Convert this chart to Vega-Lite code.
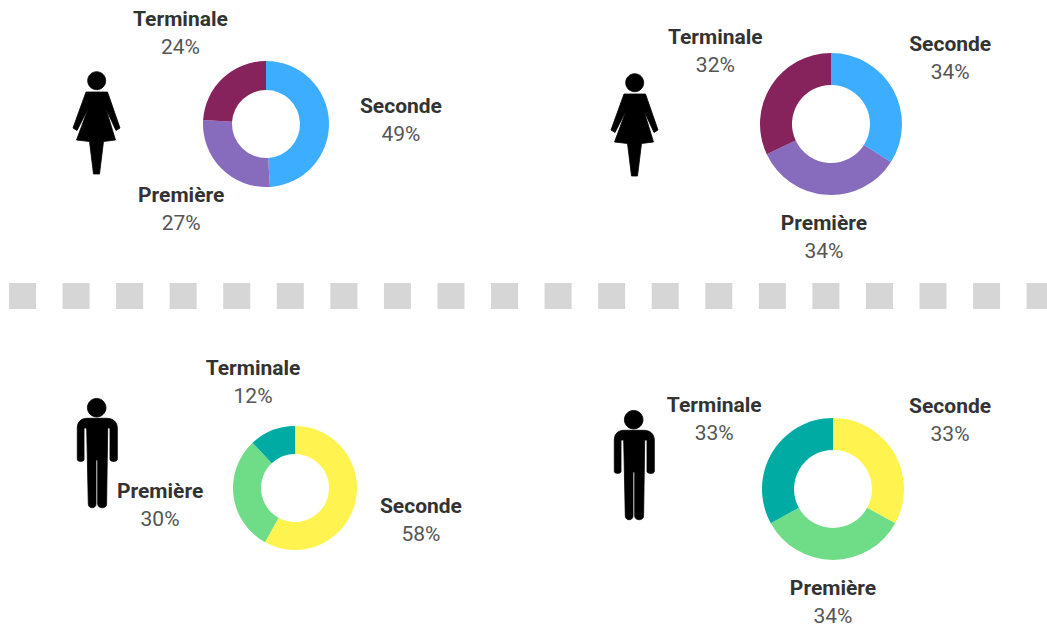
{
"$schema":"https://vega.github.io/schema/vega-lite/v6.json",
"width":1047,"height":626,"autosize":{"type":"none"},"padding":0,
"background":"white","view":{"stroke":null},
"config":{"text":{"font":"Roboto"}},
"data":{"values":[
{"groupe":"A","niveau":"Seconde","rang":1,"part":0.49,"tranche":"Filles Seconde"},
{"groupe":"A","niveau":"Première","rang":2,"part":0.27,"tranche":"Filles Première"},
{"groupe":"A","niveau":"Terminale","rang":3,"part":0.24,"tranche":"Filles Terminale"},
{"groupe":"B","niveau":"Seconde","rang":1,"part":0.34,"tranche":"Filles Seconde"},
{"groupe":"B","niveau":"Première","rang":2,"part":0.34,"tranche":"Filles Première"},
{"groupe":"B","niveau":"Terminale","rang":3,"part":0.32,"tranche":"Filles Terminale"},
{"groupe":"C","niveau":"Seconde","rang":1,"part":0.58,"tranche":"Garçons Seconde"},
{"groupe":"C","niveau":"Première","rang":2,"part":0.30,"tranche":"Garçons Première"},
{"groupe":"C","niveau":"Terminale","rang":3,"part":0.12,"tranche":"Garçons Terminale"},
{"groupe":"D","niveau":"Seconde","rang":1,"part":0.33,"tranche":"Garçons Seconde"},
{"groupe":"D","niveau":"Première","rang":2,"part":0.34,"tranche":"Garçons Première"},
{"groupe":"D","niveau":"Terminale","rang":3,"part":0.33,"tranche":"Garçons Terminale"}
]},
"layer":[
{"data":{"values":[{"element":"séparateur"}]},
 "mark":{"type":"rule","color":"#d6d6d6","strokeWidth":26,"strokeDash":[27,26.56]},
 "encoding":{"x":{"datum":9,"type":"quantitative","scale":{"domain":[0,1047]},"axis":null},"x2":{"datum":1047},"y":{"datum":296,"type":"quantitative","scale":{"domain":[626,0]},"axis":null}}},
{"data":{"values":[{"element":"fille"}]},
 "mark":{"type":"point","filled":true,"color":"black","stroke":"black","strokeWidth":0.8,"opacity":1,"size":4,"shape":"M-11,-31 L-24,5 L-20,7.5 L-9,-14 L-20.5,17 L-7.5,18.5 L-3.5,51 L2.5,51 L6.5,18.5 L18.5,17 L9,-14 L19,7.5 L23,5 L10.5,-31 Z M-9.3,-42.3 C-9.3,-47.3 -5.3,-51.3 -0.3,-51.3 C4.7,-51.3 8.7,-47.3 8.7,-42.3 C8.7,-37.3 4.7,-33.3 -0.3,-33.3 C-5.3,-33.3 -9.3,-37.3 -9.3,-42.3 Z"},
 "encoding":{"x":{"datum":97,"type":"quantitative","scale":{"domain":[0,1047]},"axis":null},"y":{"datum":123,"type":"quantitative","scale":{"domain":[626,0]},"axis":null}}},
{"data":{"values":[{"element":"fille"}]},
 "mark":{"type":"point","filled":true,"color":"black","stroke":"black","strokeWidth":0.8,"opacity":1,"size":4,"shape":"M-11,-31 L-24,5 L-20,7.5 L-9,-14 L-20.5,17 L-7.5,18.5 L-3.5,51 L2.5,51 L6.5,18.5 L18.5,17 L9,-14 L19,7.5 L23,5 L10.5,-31 Z M-9.3,-42.3 C-9.3,-47.3 -5.3,-51.3 -0.3,-51.3 C4.7,-51.3 8.7,-47.3 8.7,-42.3 C8.7,-37.3 4.7,-33.3 -0.3,-33.3 C-5.3,-33.3 -9.3,-37.3 -9.3,-42.3 Z"},
 "encoding":{"x":{"datum":635,"type":"quantitative","scale":{"domain":[0,1047]},"axis":null},"y":{"datum":125,"type":"quantitative","scale":{"domain":[626,0]},"axis":null}}},
{"data":{"values":[{"element":"garçon"}]},
 "mark":{"type":"point","filled":true,"color":"black","stroke":"black","strokeWidth":0.8,"opacity":1,"size":4,"shape":"M-10,-41.7 C-16,-41.7 -19.7,-38 -19.7,-32 L-19.7,-0.5 C-19.7,2 -13,2 -13,-0.5 L-13,-32 L-10.3,-32 L-8.7,44 C-8.7,49 -1,49 -1,44 L-1,0 L0.7,0 L0.7,44 C0.7,49 9.6,49 9.6,44 L10.7,-32 L13,-32 L13,-0.5 C13,2 20.3,2 20.3,-0.5 L20.3,-32 C20.3,-38 16,-41.7 10,-41.7 Z M-9.6,-52.3 C-9.6,-57.4 -5.4,-61.6 -0.3,-61.6 C4.8,-61.6 9,-57.4 9,-52.3 C9,-47.2 4.8,-43 -0.3,-43 C-5.4,-43 -9.6,-47.2 -9.6,-52.3 Z"},
 "encoding":{"x":{"datum":97,"type":"quantitative","scale":{"domain":[0,1047]},"axis":null},"y":{"datum":460,"type":"quantitative","scale":{"domain":[626,0]},"axis":null}}},
{"data":{"values":[{"element":"garçon"}]},
 "mark":{"type":"point","filled":true,"color":"black","stroke":"black","strokeWidth":0.8,"opacity":1,"size":4,"shape":"M-10,-41.7 C-16,-41.7 -19.7,-38 -19.7,-32 L-19.7,-0.5 C-19.7,2 -13,2 -13,-0.5 L-13,-32 L-10.3,-32 L-8.7,44 C-8.7,49 -1,49 -1,44 L-1,0 L0.7,0 L0.7,44 C0.7,49 9.6,49 9.6,44 L10.7,-32 L13,-32 L13,-0.5 C13,2 20.3,2 20.3,-0.5 L20.3,-32 C20.3,-38 16,-41.7 10,-41.7 Z M-9.6,-52.3 C-9.6,-57.4 -5.4,-61.6 -0.3,-61.6 C4.8,-61.6 9,-57.4 9,-52.3 C9,-47.2 4.8,-43 -0.3,-43 C-5.4,-43 -9.6,-47.2 -9.6,-52.3 Z"},
 "encoding":{"x":{"datum":634,"type":"quantitative","scale":{"domain":[0,1047]},"axis":null},"y":{"datum":472,"type":"quantitative","scale":{"domain":[626,0]},"axis":null}}},
{"transform":[{"filter":"datum.groupe==='A'"}],
 "encoding":{"x":{"datum":266,"type":"quantitative","scale":{"domain":[0,1047]},"axis":null},"y":{"datum":124,"type":"quantitative","scale":{"domain":[626,0]},"axis":null},"theta":{"field":"part","type":"quantitative","stack":true,"scale":{"domain":[0,1]}},"order":{"field":"rang"},"detail":{"field":"niveau"}},
 "layer":[
 {"mark":{"type":"arc","outerRadius":63,"innerRadius":34},"encoding":{"color":{"field":"tranche","legend":null,"scale":{"domain":["Filles Seconde","Filles Première","Filles Terminale","Garçons Seconde","Garçons Première","Garçons Terminale"],"range":["#3cadff","#876bbd","#86235c","#fff44f","#6fdc88","#00aba4"]}}}},
 {"mark":{"type":"text","fontWeight":"bold","fontSize":21,"color":"#333333","dy":-13,"radius":{"expr":"datum.niveau==='Seconde'?135:datum.niveau==='Première'?120:125"}},"encoding":{"text":{"field":"niveau"}}},
 {"mark":{"type":"text","fontSize":21,"color":"#555555","dy":15,"radius":{"expr":"datum.niveau==='Seconde'?135:datum.niveau==='Première'?120:125"}},"encoding":{"text":{"field":"part","format":".0%"}}}
 ]},
{"transform":[{"filter":"datum.groupe==='B'"}],
 "encoding":{"x":{"datum":831,"type":"quantitative","scale":{"domain":[0,1047]},"axis":null},"y":{"datum":124,"type":"quantitative","scale":{"domain":[626,0]},"axis":null},"theta":{"field":"part","type":"quantitative","stack":true,"scale":{"domain":[0,1]}},"order":{"field":"rang"},"detail":{"field":"niveau"}},
 "layer":[
 {"mark":{"type":"arc","outerRadius":71,"innerRadius":39},"encoding":{"color":{"field":"tranche","legend":null}}},
 {"mark":{"type":"text","fontWeight":"bold","fontSize":21,"color":"#333333","dy":-13,"radius":{"expr":"datum.niveau==='Seconde'?136:datum.niveau==='Première'?113:137"}},"encoding":{"text":{"field":"niveau"}}},
 {"mark":{"type":"text","fontSize":21,"color":"#555555","dy":15,"radius":{"expr":"datum.niveau==='Seconde'?136:datum.niveau==='Première'?113:137"}},"encoding":{"text":{"field":"part","format":".0%"}}}
 ]},
{"transform":[{"filter":"datum.groupe==='C'"}],
 "encoding":{"x":{"datum":295,"type":"quantitative","scale":{"domain":[0,1047]},"axis":null},"y":{"datum":488,"type":"quantitative","scale":{"domain":[626,0]},"axis":null},"theta":{"field":"part","type":"quantitative","stack":true,"scale":{"domain":[0,1]}},"order":{"field":"rang"},"detail":{"field":"niveau"}},
 "layer":[
 {"mark":{"type":"arc","outerRadius":62,"innerRadius":34},"encoding":{"color":{"field":"tranche","legend":null}}},
 {"mark":{"type":"text","fontWeight":"bold","fontSize":21,"color":"#333333","dy":-13,"radius":{"expr":"datum.niveau==='Seconde'?130:datum.niveau==='Première'?136:114"}},"encoding":{"text":{"field":"niveau"}}},
 {"mark":{"type":"text","fontSize":21,"color":"#555555","dy":15,"radius":{"expr":"datum.niveau==='Seconde'?130:datum.niveau==='Première'?136:114"}},"encoding":{"text":{"field":"part","format":".0%"}}}
 ]},
{"transform":[{"filter":"datum.groupe==='D'"}],
 "encoding":{"x":{"datum":833,"type":"quantitative","scale":{"domain":[0,1047]},"axis":null},"y":{"datum":489,"type":"quantitative","scale":{"domain":[626,0]},"axis":null},"theta":{"field":"part","type":"quantitative","stack":true,"scale":{"domain":[0,1]}},"order":{"field":"rang"},"detail":{"field":"niveau"}},
 "layer":[
 {"mark":{"type":"arc","outerRadius":71,"innerRadius":39},"encoding":{"color":{"field":"tranche","legend":null}}},
 {"mark":{"type":"text","fontWeight":"bold","fontSize":21,"color":"#333333","dy":-13,"radius":{"expr":"datum.niveau==='Seconde'?136:datum.niveau==='Première'?113:138"}},"encoding":{"text":{"field":"niveau"}}},
 {"mark":{"type":"text","fontSize":21,"color":"#555555","dy":15,"radius":{"expr":"datum.niveau==='Seconde'?136:datum.niveau==='Première'?113:138"}},"encoding":{"text":{"field":"part","format":".0%"}}}
 ]}
]
}
